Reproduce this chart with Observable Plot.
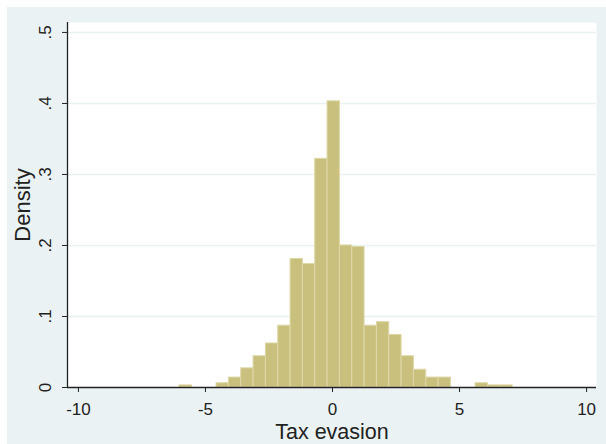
<!DOCTYPE html>
<html>
<head>
<meta charset="utf-8">
<script src="https://cdn.jsdelivr.net/npm/d3@7"></script>
<script src="https://cdn.jsdelivr.net/npm/@observablehq/plot@0.6"></script>
<style>
  html, body { margin: 0; padding: 0; background: #ffffff; }
  #chart { position: absolute; left: 7px; top: 7px; }
</style>
</head>
<body>
<div id="chart"></div>
<script>
// Histogram of tax evasion (density), 27 equal-width bins
const binStart = -6.02;
const binWidth = 0.4855;
const density = [0.003, 0, 0, 0.006, 0.014, 0.027, 0.044, 0.062, 0.087, 0.181, 0.174,
                 0.322, 0.403, 0.200, 0.198, 0.087, 0.092, 0.074, 0.044, 0.025, 0.014,
                 0.014, 0, 0, 0.006, 0.003, 0.003];
const xTicks = [-10, -5, 0, 5, 10];
const yTicks = [0, 0.1, 0.2, 0.3, 0.4, 0.5];
const yTickLabels = ["0", ".1", ".2", ".3", ".4", ".5"];
const xTitle = "Tax evasion";
const yTitle = "Density";

const bins = density.map((d, i) => ({
  x1: binStart + i * binWidth,
  x2: binStart + (i + 1) * binWidth,
  y: d
})).filter(d => d.y > 0);

const xDomain = [-10.43, 10.39];
const yDomain = [0, 0.514];
const font = "'Liberation Sans', Arial, Helvetica, sans-serif";
const axisColor = "#222222";

const chart = Plot.plot({
  width: 599,
  height: 437,
  marginLeft: 60,
  marginRight: 10,
  marginTop: 15,
  marginBottom: 57,
  style: { background: "#EAF2F3", fontFamily: font, color: axisColor },
  x: { domain: xDomain },
  y: { domain: yDomain },
  marks: [
    Plot.frame({ fill: "#ffffff", stroke: null }),
    Plot.ruleY(yTicks.slice(1), { stroke: "#EAF2F3", strokeWidth: 1.5 }),
    Plot.rectY(bins, { x1: "x1", x2: "x2", y: "y", fill: "#C9C07D", stroke: "#DED8A8", strokeWidth: 1, inset: 0 }),
    Plot.ruleX([xDomain[0]], { stroke: axisColor, strokeWidth: 1.3 }),
    Plot.ruleY([0], { stroke: axisColor, strokeWidth: 1.3 }),
    Plot.axisX({ ticks: xTicks, tickSize: 5, tickPadding: 10, fontSize: 17, label: null, stroke: axisColor, tickFormat: d => String(d) }),
    Plot.axisY({ ticks: yTicks, tickSize: 5, tickFormat: () => "", label: null, stroke: axisColor }),
    Plot.text(yTicks, { y: d => d, text: (d, i) => yTickLabels[i], frameAnchor: "left", dx: -22, rotate: -90, fontSize: 17, textAnchor: "middle", lineAnchor: "middle", fill: axisColor }),
    Plot.text([xTitle], { text: d => d, frameAnchor: "bottom", dy: 45, fontSize: 21.5, textAnchor: "middle", lineAnchor: "middle", fill: axisColor }),
    Plot.text([yTitle], { text: d => d, frameAnchor: "left", dx: -45, rotate: -90, fontSize: 22, textAnchor: "middle", lineAnchor: "middle", fill: axisColor })
  ]
});
document.getElementById("chart").appendChild(chart);
</script>
</body>
</html>
